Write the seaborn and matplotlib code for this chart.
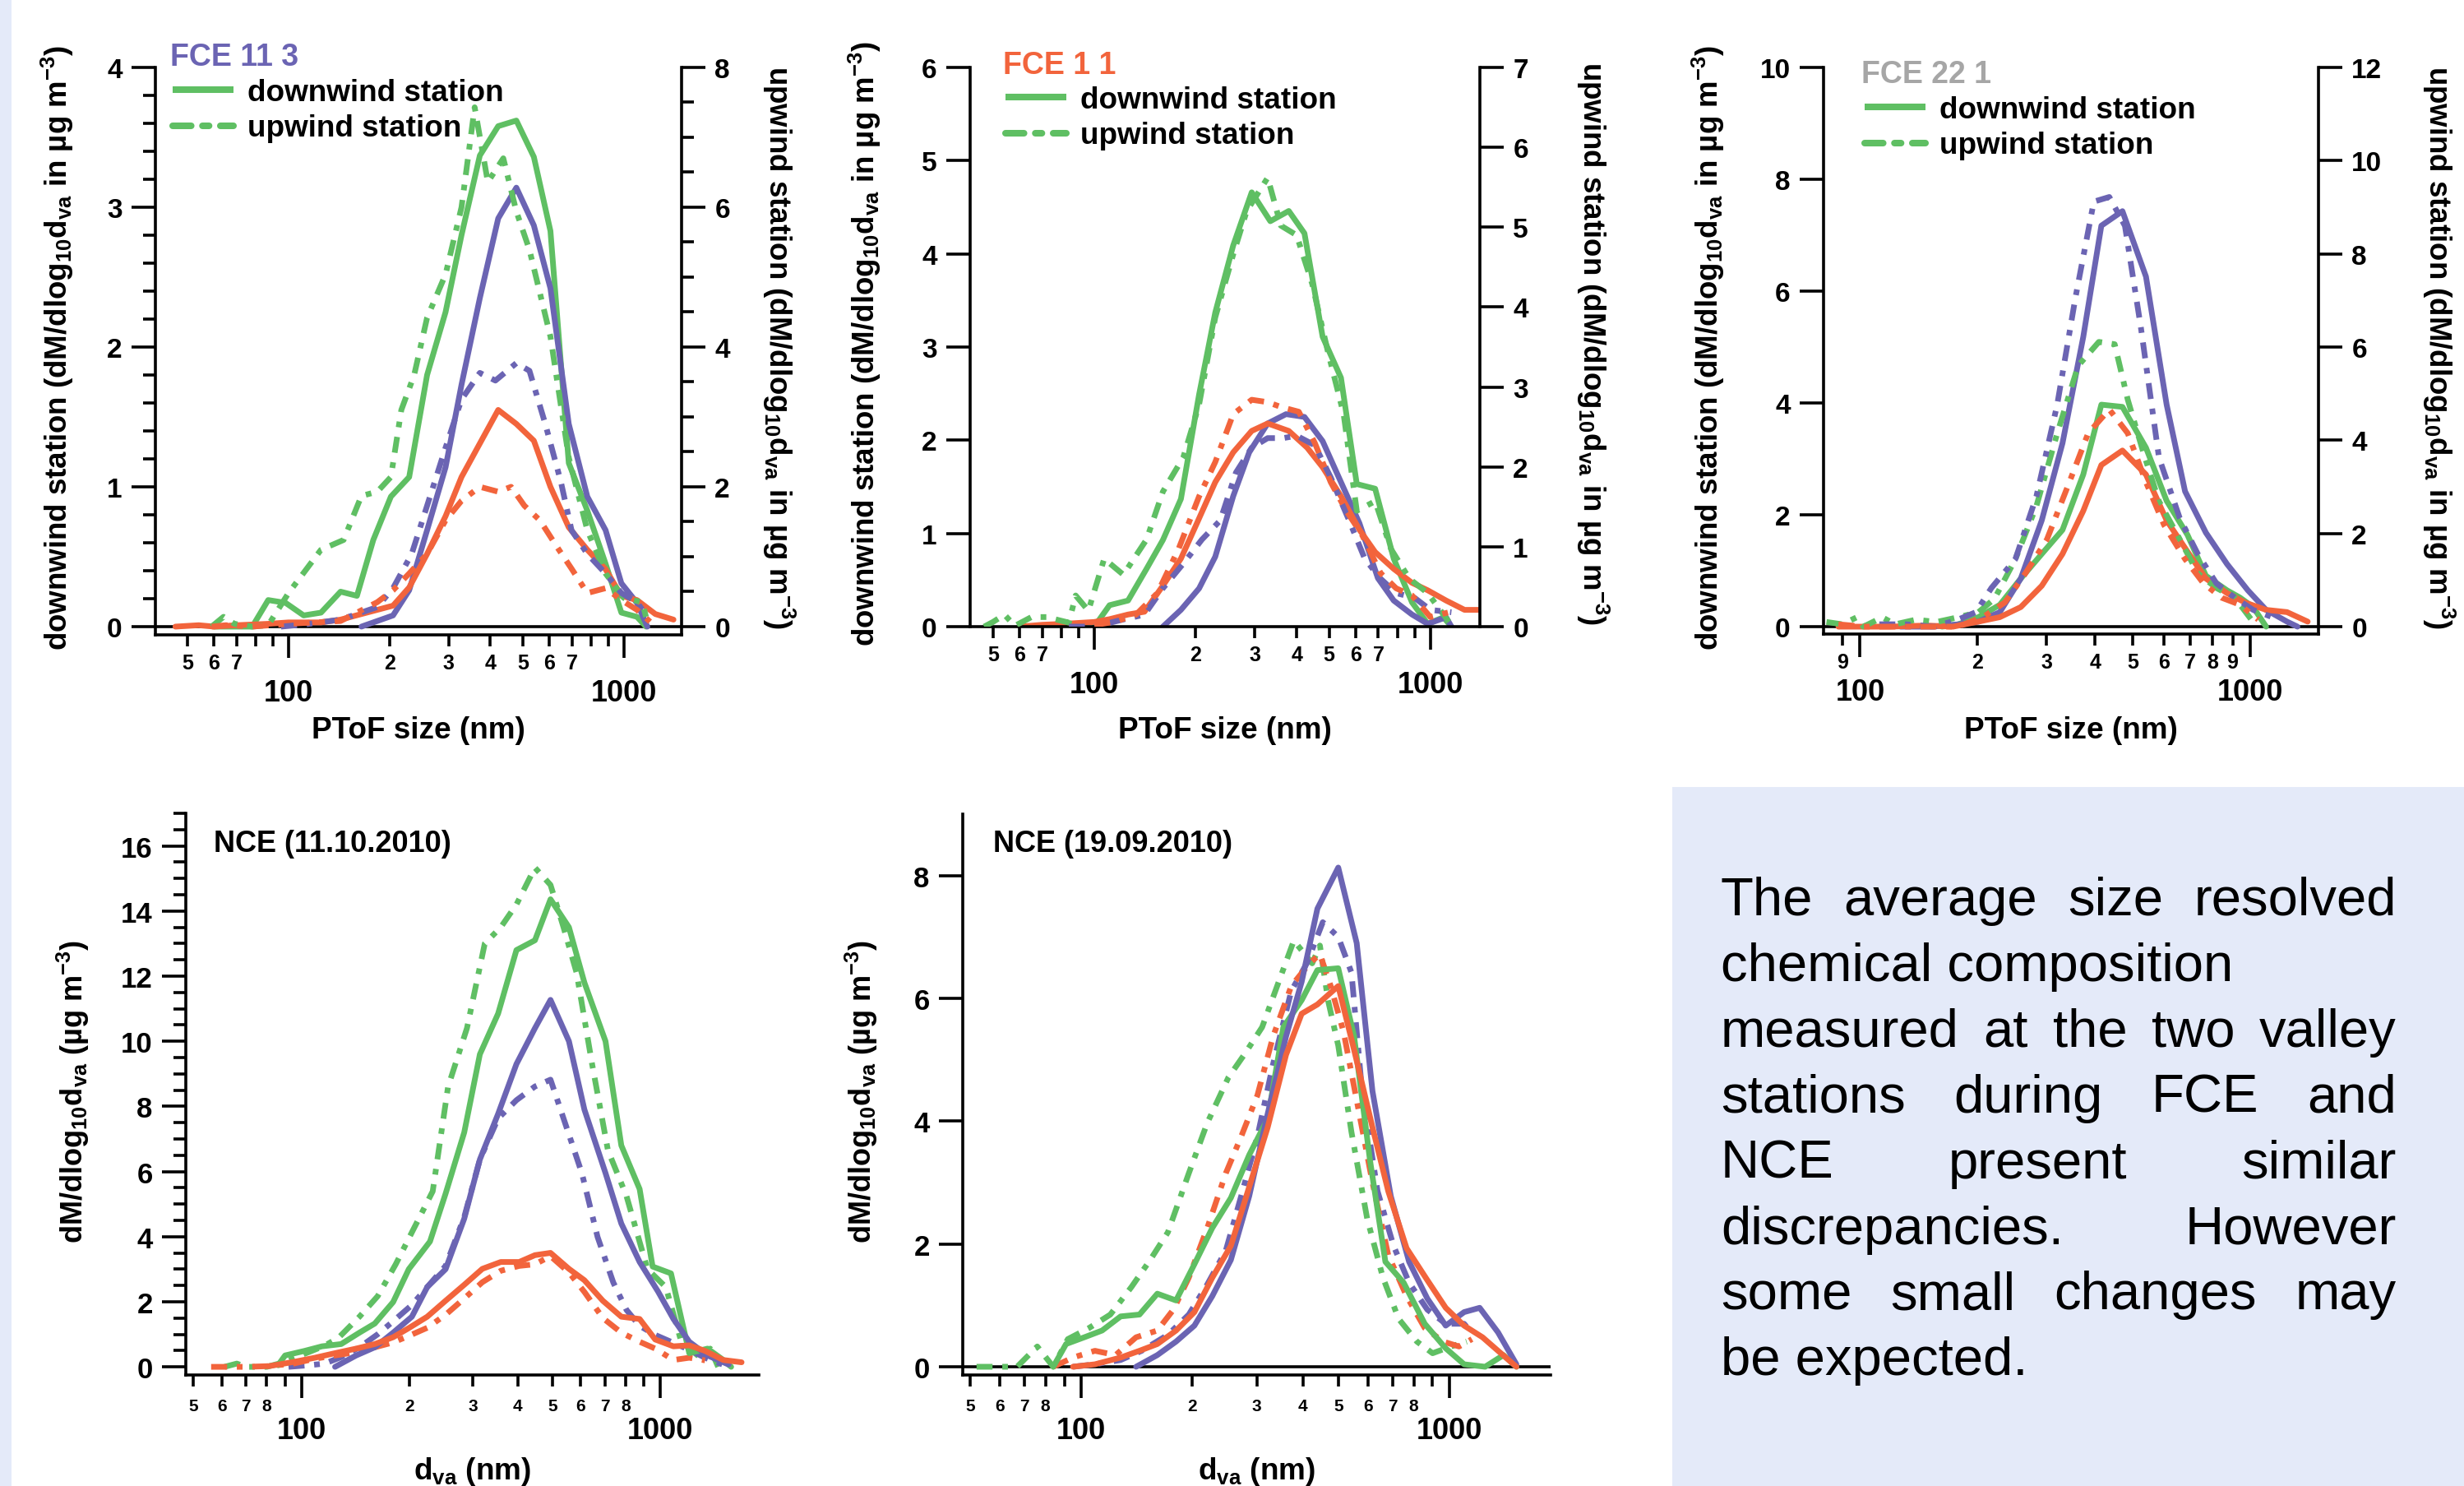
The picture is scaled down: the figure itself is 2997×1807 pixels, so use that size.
import numpy as np
import pandas as pd
import matplotlib
matplotlib.use("Agg")
import matplotlib.pyplot as plt
import seaborn as sns
from matplotlib.lines import Line2D
from matplotlib.patches import Rectangle
from matplotlib.ticker import FixedLocator, FuncFormatter, MultipleLocator, NullLocator

# ---------------- data (size in nm, dM/dlog10 dva) ----------------
# FCE 11 3  (downwind -> left axis, upwind -> right axis)
tl_green_down_x = [60, 78, 87, 98, 111, 125, 143, 160, 179, 202, 229, 259, 294, 328, 372, 422, 478, 539, 604, 685, 778, 882, 983, 1094, 1164]
tl_green_down_y = [0, 0, 0.19, 0.17, 0.08, 0.10, 0.25, 0.22, 0.62, 0.93, 1.07, 1.80, 2.25, 2.80, 3.37, 3.58, 3.62, 3.36, 2.83, 1.17, 0.83, 0.45, 0.10, 0.07, 0]
tl_green_up_x = [59, 64, 69, 78, 87, 100, 125, 146, 165, 184, 202, 217, 237, 259, 294, 328, 359, 393, 437, 478, 523, 604, 685, 778, 882, 1000, 1134, 1164]
tl_green_up_y = [0, 0.14, 0.04, 0, 0.02, 0.48, 1.10, 1.24, 1.87, 1.93, 2.14, 3.10, 3.60, 4.42, 5.04, 6.00, 7.43, 6.36, 6.70, 5.94, 5.39, 4.15, 2.42, 1.38, 0.76, 0.41, 0.35, 0.14]
tl_purple_down_x = [165, 205, 229, 259, 294, 328, 372, 422, 478, 539, 604, 685, 778, 882, 983, 1094, 1175]
tl_purple_down_y = [0, 0.08, 0.26, 0.69, 1.14, 1.73, 2.35, 2.92, 3.14, 2.87, 2.42, 1.45, 0.93, 0.69, 0.31, 0.17, 0]
tl_purple_up_x = [95, 111, 143, 184, 205, 233, 259, 294, 328, 372, 414, 478, 523, 583, 649, 698, 778, 882, 983, 1094, 1175]
tl_purple_up_y = [0, 0.03, 0.10, 0.28, 0.55, 1.04, 1.73, 2.56, 3.25, 3.63, 3.52, 3.77, 3.66, 2.90, 2.07, 1.38, 1.04, 0.76, 0.48, 0.35, 0.14]
tl_orange_down_x = [46, 54, 60, 70, 87, 100, 125, 143, 165, 184, 205, 229, 259, 294, 328, 372, 422, 478, 539, 604, 685, 778, 882, 983, 1094, 1241, 1406]
tl_orange_down_y = [0, 0.01, 0, 0.01, 0.02, 0.03, 0.03, 0.05, 0.09, 0.12, 0.15, 0.28, 0.52, 0.79, 1.07, 1.31, 1.55, 1.45, 1.33, 1.00, 0.71, 0.55, 0.41, 0.22, 0.19, 0.09, 0.05]
tl_orange_up_x = [59, 65, 78, 100, 143, 184, 205, 229, 259, 294, 328, 372, 422, 461, 505, 562, 626, 698, 778, 882, 983, 1094, 1197]
tl_orange_up_y = [0, 0.02, 0, 0.04, 0.08, 0.35, 0.52, 0.76, 1.04, 1.52, 1.80, 2.00, 1.93, 2.00, 1.73, 1.52, 1.17, 0.83, 0.48, 0.55, 0.38, 0.24, 0.07]

# FCE 1 1
tm_green_down_x = [100, 111, 126, 143, 160, 181, 205, 229, 259, 294, 334, 379, 422, 478, 542, 604, 685, 778, 882, 982, 1094, 1155]
tm_green_down_y = [0, 0.23, 0.28, 0.62, 0.93, 1.37, 2.49, 3.37, 4.09, 4.66, 4.35, 4.46, 4.22, 3.11, 2.67, 1.53, 1.48, 0.73, 0.26, 0.03, 0.10, 0]
tm_green_up_x = [47, 50, 54, 58, 65, 72, 84, 88, 96, 107, 122, 143, 160, 184, 205, 229, 259, 284, 328, 359, 400, 445, 495, 552, 604, 685, 764, 866, 982, 1135]
tm_green_up_y = [0, 0.06, 0.15, 0.01, 0.12, 0.12, 0.05, 0.39, 0.20, 0.85, 0.65, 1.09, 1.69, 2.12, 2.78, 3.87, 4.66, 5.20, 5.62, 5.02, 4.90, 4.29, 3.45, 2.66, 1.45, 1.57, 0.97, 0.60, 0.42, 0.06]
tm_purple_down_x = [160, 181, 205, 229, 259, 289, 328, 372, 422, 478, 542, 615, 698, 778, 882, 982, 1114, 1155]
tm_purple_down_y = [0, 0.18, 0.41, 0.75, 1.40, 1.87, 2.18, 2.28, 2.25, 1.99, 1.55, 1.11, 0.52, 0.28, 0.13, 0.03, 0.10, 0]
tm_purple_up_x = [84, 100, 122, 141, 160, 184, 209, 237, 264, 294, 328, 365, 400, 453, 505, 573, 638, 711, 791, 898, 1000, 1155]
tm_purple_up_y = [0, 0, 0.09, 0.15, 0.48, 0.79, 1.09, 1.33, 1.93, 2.24, 2.36, 2.36, 2.39, 2.27, 1.87, 1.33, 0.85, 0.60, 0.42, 0.36, 0.21, 0.18]
tm_orange_down_x = [60, 70, 81, 100, 111, 126, 141, 160, 181, 202, 229, 259, 294, 328, 379, 430, 478, 542, 615, 685, 778, 882, 982, 1114, 1264, 1406]
tm_orange_down_y = [0, 0.02, 0.03, 0.05, 0.08, 0.13, 0.16, 0.44, 0.73, 1.11, 1.55, 1.87, 2.10, 2.18, 2.10, 1.92, 1.71, 1.40, 1.04, 0.80, 0.62, 0.47, 0.39, 0.28, 0.18, 0.18]
tm_orange_up_x = [100, 115, 133, 154, 178, 205, 229, 259, 294, 328, 359, 406, 453, 505, 562, 626, 711, 791, 882, 1000, 1135]
tm_orange_up_y = [0.02, 0.06, 0.15, 0.42, 0.97, 1.63, 2.06, 2.66, 2.84, 2.81, 2.75, 2.69, 2.30, 1.81, 1.45, 1.15, 0.67, 0.48, 0.39, 0.12, 0.18]

# FCE 22 1
tr_green_down_x = [162, 178, 201, 228, 258, 292, 330, 373, 415, 470, 540, 610, 690, 769, 871, 940, 1016, 1097]
tr_green_down_y = [0, 0.04, 0.17, 0.39, 0.86, 1.30, 1.73, 2.72, 3.97, 3.93, 3.20, 2.25, 1.64, 0.91, 0.65, 0.52, 0.35, 0]
tr_green_up_x = [82, 90, 98, 102, 114, 123, 139, 157, 178, 201, 221, 250, 283, 320, 362, 409, 449, 485, 532, 583, 650, 734, 818, 912, 1016]
tr_green_up_y = [0.10, 0.05, 0.20, 0, 0.20, 0.05, 0.15, 0.10, 0.20, 0.31, 0.60, 1.45, 2.59, 4.15, 5.60, 6.11, 6.06, 4.87, 3.73, 2.69, 1.97, 1.14, 0.83, 0.62, 0.10]
tr_purple_down_x = [127, 152, 178, 201, 228, 258, 292, 330, 373, 415, 470, 540, 610, 680, 769, 871, 985, 1097, 1241, 1320]
tr_purple_down_y = [0, 0, 0.04, 0.09, 0.26, 0.86, 1.90, 3.28, 5.18, 7.17, 7.43, 6.26, 3.97, 2.42, 1.68, 1.12, 0.65, 0.30, 0.09, 0]
tr_purple_up_x = [112, 131, 155, 178, 198, 217, 250, 283, 320, 356, 397, 435, 477, 524, 583, 659, 734, 818, 912, 1016, 1132]
tr_purple_up_y = [0.05, 0.05, 0, 0.15, 0.31, 0.83, 1.45, 2.80, 4.77, 7.05, 9.12, 9.22, 8.60, 6.42, 3.63, 2.33, 1.55, 0.93, 0.62, 0.36, 0.21]
tr_orange_down_x = [88, 102, 119, 148, 173, 201, 228, 258, 292, 330, 373, 415, 470, 540, 610, 690, 769, 871, 970, 1097, 1241, 1402]
tr_orange_down_y = [0, 0, 0, 0.02, 0, 0.09, 0.17, 0.35, 0.73, 1.30, 2.07, 2.89, 3.15, 2.72, 1.90, 1.34, 0.86, 0.60, 0.43, 0.30, 0.26, 0.09]
tr_orange_up_x = [88, 102, 119, 178, 207, 235, 265, 301, 340, 384, 435, 485, 540, 601, 680, 758, 844, 940, 1047]
tr_orange_up_y = [0.05, 0, 0, 0, 0.21, 0.52, 1.14, 1.87, 3.00, 4.15, 4.66, 4.15, 3.10, 2.18, 1.45, 0.93, 0.62, 0.47, 0.15]

# NCE (11.10.2010)
bl_green_down_x = [86, 90, 102, 114, 129, 145, 160, 180, 199, 228, 252, 284, 314, 353, 397, 447, 494, 556, 614, 703, 778, 875, 951, 1070, 1203, 1353, 1497, 1574]
bl_green_down_y = [0.05, 0.35, 0.49, 0.63, 0.70, 1.05, 1.33, 1.99, 3.00, 3.85, 5.32, 7.20, 9.60, 10.85, 12.80, 13.10, 14.36, 13.50, 11.80, 10.00, 6.80, 5.46, 3.08, 2.87, 0.42, 0.56, 0.21, 0]
bl_green_up_x = [61, 66, 70, 80, 90, 102, 116, 127, 145, 163, 183, 206, 232, 256, 289, 324, 359, 397, 447, 494, 537, 584, 645, 714, 804, 920, 1035, 1143, 1286, 1376, 1448]
bl_green_up_y = [0, 0.10, 0, 0, 0.15, 0.40, 0.65, 0.90, 1.54, 2.17, 3.15, 4.27, 5.39, 8.60, 10.40, 13.00, 13.50, 14.20, 15.33, 14.80, 13.50, 12.10, 9.30, 6.65, 5.25, 3.00, 2.45, 0.77, 0.30, 0.56, 0]
bl_purple_down_x = [124, 142, 160, 180, 203, 224, 252, 284, 314, 353, 397, 447, 494, 556, 614, 703, 778, 875, 985, 1087, 1203, 1353, 1549]
bl_purple_down_y = [0, 0.35, 0.60, 1.05, 1.54, 2.45, 3.00, 4.55, 6.37, 7.77, 9.30, 10.40, 11.27, 10.00, 7.90, 5.95, 4.40, 3.22, 2.31, 1.47, 0.77, 0.35, 0.07]
bl_purple_up_x = [92, 105, 116, 129, 145, 163, 180, 203, 224, 252, 284, 314, 353, 397, 447, 494, 537, 604, 668, 739, 804, 875, 967, 1070, 1183, 1331, 1549]
bl_purple_up_y = [0, 0.05, 0.10, 0.30, 0.60, 1.00, 1.40, 1.90, 2.45, 3.10, 4.60, 6.37, 7.63, 8.19, 8.61, 8.82, 7.63, 5.95, 3.99, 2.59, 1.75, 1.26, 0.98, 0.77, 0.56, 0.28, 0]
bl_orange_down_x = [81, 95, 109, 124, 142, 160, 180, 199, 224, 252, 284, 319, 359, 404, 447, 494, 556, 614, 691, 778, 875, 967, 1087, 1203, 1331, 1497, 1683]
bl_orange_down_y = [0.02, 0.15, 0.28, 0.42, 0.56, 0.70, 0.91, 1.19, 1.54, 2.03, 2.52, 3.01, 3.22, 3.22, 3.43, 3.50, 3.01, 2.66, 2.03, 1.54, 1.47, 0.84, 0.63, 0.66, 0.49, 0.21, 0.14]
bl_orange_up_x = [56, 64, 70, 80, 95, 109, 124, 142, 160, 180, 199, 224, 252, 284, 319, 359, 404, 447, 494, 556, 614, 691, 778, 875, 967, 1087, 1203, 1331]
bl_orange_up_y = [0, 0, 0, 0.02, 0.10, 0.25, 0.35, 0.45, 0.60, 0.75, 0.95, 1.20, 1.60, 2.10, 2.60, 2.95, 3.10, 3.15, 3.40, 2.90, 2.30, 1.50, 1.05, 0.77, 0.56, 0.21, 0.28, 0.20]

# NCE (19.09.2010)
bm_green_down_x = [84, 91, 102, 114, 128, 144, 161, 181, 203, 227, 255, 286, 321, 354, 397, 438, 499, 551, 608, 670, 751, 857, 977, 1096, 1250, 1402, 1520]
bm_green_down_y = [0, 0.37, 0.48, 0.59, 0.82, 0.85, 1.19, 1.08, 1.67, 2.26, 2.75, 3.45, 4.04, 5.53, 5.97, 6.46, 6.49, 5.38, 3.38, 1.71, 1.37, 0.70, 0.30, 0.04, 0, 0.19, 0]
bm_green_up_x = [52, 67, 76, 84, 92, 105, 120, 137, 154, 172, 196, 220, 251, 277, 310, 342, 378, 424, 445, 468, 499, 542, 598, 660, 728, 816, 900, 1009, 1114]
bm_green_up_y = [0, 0, 0.33, 0, 0.45, 0.63, 0.85, 1.30, 1.74, 2.19, 3.15, 3.97, 4.71, 5.08, 5.53, 6.23, 6.94, 6.57, 6.86, 5.97, 5.23, 3.82, 2.41, 1.45, 0.78, 0.41, 0.22, 0.33, 0.41]
bm_purple_down_x = [141, 161, 181, 203, 227, 255, 286, 321, 360, 397, 438, 499, 560, 618, 693, 777, 871, 977, 1096, 1208, 1355, 1520]
bm_purple_down_y = [0, 0.19, 0.41, 0.67, 1.15, 1.74, 2.78, 4.12, 5.38, 6.27, 7.46, 8.13, 6.90, 4.49, 2.78, 1.71, 1.11, 0.67, 0.89, 0.96, 0.56, 0.04]
bm_purple_up_x = [95, 109, 128, 146, 172, 196, 220, 247, 272, 301, 332, 372, 410, 453, 499, 542, 579, 638, 705, 777, 871, 977, 1096, 1151]
bm_purple_up_y = [0, 0.04, 0.11, 0.26, 0.52, 0.85, 1.34, 1.89, 2.78, 3.75, 4.93, 6.12, 6.57, 7.24, 7.00, 6.42, 4.49, 2.86, 1.97, 1.37, 0.93, 0.70, 0.70, 0.55]
bm_orange_down_x = [95, 109, 128, 144, 161, 181, 203, 227, 255, 286, 321, 360, 397, 438, 499, 551, 618, 682, 765, 871, 977, 1096, 1230, 1355, 1520]
bm_orange_down_y = [0, 0.04, 0.15, 0.26, 0.37, 0.59, 0.89, 1.45, 1.97, 2.93, 3.90, 5.08, 5.75, 5.90, 6.20, 5.16, 3.90, 2.86, 1.93, 1.41, 0.96, 0.67, 0.48, 0.26, 0]
bm_orange_up_x = [84, 95, 109, 124, 141, 161, 178, 196, 220, 247, 272, 301, 332, 372, 417, 445, 476, 516, 560, 618, 682, 765, 857, 962, 1062, 1151]
bm_orange_up_y = [0, 0.15, 0.26, 0.19, 0.48, 0.59, 0.93, 1.45, 2.26, 3.15, 3.75, 4.42, 5.38, 6.20, 6.57, 6.72, 6.20, 5.45, 4.34, 3.00, 1.82, 1.15, 0.63, 0.41, 0.33, 0.45]

species_order = ["green", "purple", "orange"]
palette = {"green": "#5fbf63", "purple": "#6b64b3", "orange": "#f2643c"}

text_lines = ["The average size resolved", "chemical composition", "measured at the two valley",
              "stations during FCE and", "NCE present similar", "discrepancies. However",
              "some small changes may", "be expected."]
text_justify = [True, False, True, True, True, True, True, False]

ylab_down = "downwind station (dM/dlog$_{10}$d$_{va}$ in µg m$^{-3}$)"
ylab_up = "upwind station (dM/dlog$_{10}$d$_{va}$ in µg m$^{-3}$)"
ylab_nce = "dM/dlog$_{10}$d$_{va}$ (µg m$^{-3}$)"

# ---------------- style ----------------
sns.set_theme(style="ticks", rc={"axes.edgecolor": "black", "xtick.color": "black", "ytick.color": "black",
                                 "text.color": "black", "axes.labelcolor": "black"})
plt.rcParams["font.family"] = ["Liberation Sans", "DejaVu Sans"]
plt.rcParams["font.weight"] = "bold"
plt.rcParams["mathtext.default"] = "regular"
plt.rcParams["axes.linewidth"] = 1.3

W, H, DPI = 2997, 1808, 200
LW = 2.5
DASHDOT = (0, (2.8, 1.7, 1.0, 1.7))
fig = plt.figure(figsize=(W / DPI, H / DPI), dpi=DPI)
fig.patch.set_facecolor("white")


def fx(x):
    return x / W


def fy(y):
    return 1 - y / H


def box(left, top, right, bottom):
    return fig.add_axes([fx(left), fy(bottom), (right - left) / W, (bottom - top) / H])


def frame(series):
    return pd.concat([pd.DataFrame({"size": xs, "value": ys, "species": sp}) for sp, xs, ys in series],
                     ignore_index=True)


def curves(ax, df, ls):
    sns.lineplot(data=df, x="size", y="value", hue="species", hue_order=species_order, palette=palette,
                 estimator=None, sort=False, legend=False, ax=ax, linewidth=LW, linestyle=ls,
                 dash_capstyle="butt", solid_joinstyle="round")
    ax.set_xlabel("")
    ax.set_ylabel("")


def x_ticks(ax, xlim, minor, labeled, fs_major, fs_minor, pad_major, pad_minor):
    ax.set_xscale("log")
    ax.set_xlim(*xlim)
    ax.xaxis.set_major_locator(FixedLocator([100, 1000]))
    ax.xaxis.set_major_formatter(FuncFormatter(lambda v, p: f"{v:.0f}"))
    ax.xaxis.set_minor_locator(FixedLocator(minor))
    ax.xaxis.set_minor_formatter(FuncFormatter(
        lambda v, p: f"{v / 10 ** np.floor(np.log10(v)):.0f}" if round(v) in labeled else ""))
    ax.tick_params(axis="x", which="major", length=10, width=1.3, pad=pad_major, labelsize=fs_major)
    ax.tick_params(axis="x", which="minor", length=5, width=1.3, pad=pad_minor, labelsize=fs_minor)


def y_ticks(ax, ylim, major, minor, fs=12):
    ax.set_ylim(*ylim)
    ax.yaxis.set_major_locator(MultipleLocator(major))
    ax.yaxis.set_minor_locator(MultipleLocator(minor) if minor else NullLocator())
    ax.yaxis.set_major_formatter(FuncFormatter(lambda v, p: f"{v:.0f}"))
    ax.tick_params(axis="y", which="major", length=10.5, width=1.3, pad=4, labelsize=fs)
    ax.tick_params(axis="y", which="minor", length=5.5, width=1.3)


def legend(ax, lx, ly):
    handles = [Line2D([], [], color=palette["green"], lw=2.9, solid_capstyle="butt"),
               Line2D([], [], color=palette["green"], lw=2.9, linestyle=DASHDOT, dash_capstyle="round")]
    ax.legend(handles, ["downwind station", "upwind station"], loc="upper left",
              bbox_to_anchor=(fx(lx), fy(ly)), bbox_transform=fig.transFigure, frameon=False,
              fontsize=13.3, handlelength=2.0, handletextpad=0.45, labelspacing=0.23,
              borderpad=0, borderaxespad=0)


minor_std = [50, 60, 70, 80, 90, 200, 300, 400, 500, 600, 700, 800, 900]

# background panels
fig.add_artist(Rectangle((0, 0), fx(14), 1, transform=fig.transFigure, facecolor="#e4eaf9",
                         edgecolor="none", zorder=-1))
fig.add_artist(Rectangle((fx(2034), 0), 1 - fx(2034), fy(958), transform=fig.transFigure,
                         facecolor="#e4eaf9", edgecolor="none", zorder=-1))

# ---------------- top panels ----------------
top_panels = [
    dict(rect=(189, 83, 829, 773), xlim=(40.1, 1486), yl=(-0.059, 4), yr=(-0.118, 8),
         sl=(1, 0.2), sr=(2, 0.5), minor=minor_std,
         labeled={50, 60, 70, 200, 300, 400, 500, 600, 700}, zero=True,
         down=[("green", tl_green_down_x, tl_green_down_y), ("purple", tl_purple_down_x, tl_purple_down_y),
               ("orange", tl_orange_down_x, tl_orange_down_y)],
         up=[("green", tl_green_up_x, tl_green_up_y), ("purple", tl_purple_up_x, tl_purple_up_y),
             ("orange", tl_orange_up_x, tl_orange_up_y)],
         title="FCE 11 3", tcolor=palette["purple"], tpos=(207, 70), lpos=(210, 96),
         lab=(70, 947)),
    dict(rect=(1180, 83, 1800, 763), xlim=(42.7, 1404), yl=(0, 6), yr=(0, 7),
         sl=(1, None), sr=(1, None), minor=minor_std,
         labeled={50, 60, 70, 200, 300, 400, 500, 600, 700}, zero=False,
         down=[("green", tm_green_down_x, tm_green_down_y), ("purple", tm_purple_down_x, tm_purple_down_y),
               ("orange", tm_orange_down_x, tm_orange_down_y)],
         up=[("green", tm_green_up_x, tm_green_up_y), ("purple", tm_purple_up_x, tm_purple_up_y),
             ("orange", tm_orange_up_x, tm_orange_up_y)],
         title="FCE 1 1", tcolor=palette["orange"], tpos=(1220, 80), lpos=(1223, 105),
         lab=(1052, 1937)),
    dict(rect=(2218, 83, 2820, 772), xlim=(80.6, 1494), yl=(-0.132, 10), yr=(-0.159, 12),
         sl=(2, None), sr=(2, None), minor=[90, 200, 300, 400, 500, 600, 700, 800, 900],
         labeled={90, 200, 300, 400, 500, 600, 700, 800, 900}, zero=True,
         down=[("green", tr_green_down_x, tr_green_down_y), ("purple", tr_purple_down_x, tr_purple_down_y),
               ("orange", tr_orange_down_x, tr_orange_down_y)],
         up=[("green", tr_green_up_x, tr_green_up_y), ("purple", tr_purple_up_x, tr_purple_up_y),
             ("orange", tr_orange_up_x, tr_orange_up_y)],
         title="FCE 22 1", tcolor="#a6a6a6", tpos=(2264, 91), lpos=(2268, 117),
         lab=(2078, 2966)),
]

for p in top_panels:
    ax = box(*p["rect"])
    ax.set_xscale("log")
    ax2 = ax.twinx()
    curves(ax, frame(p["down"]), "-")
    curves(ax2, frame(p["up"]), DASHDOT)
    x_ticks(ax, p["xlim"], p["minor"], p["labeled"], 13, 9, 9, 3)
    y_ticks(ax, p["yl"], *p["sl"])
    y_ticks(ax2, p["yr"], *p["sr"])
    if p["zero"]:
        ax.axhline(0, color="black", lw=1.3, zorder=1)
    for s in ("top", "right"):
        ax.spines[s].set_visible(False)
    for s in ("top", "left", "bottom"):
        ax2.spines[s].set_visible(False)
    legend(ax2, *p["lpos"])
    fig.text(fx(p["tpos"][0]), fy(p["tpos"][1]), p["title"], color=p["tcolor"], fontsize=13.5,
             ha="left", va="center")
    cy = (p["rect"][1] + p["rect"][3]) / 2 - 5
    fig.text(fx(p["lab"][0]), fy(cy), ylab_down, rotation=90, fontsize=13.2, ha="center", va="center")
    fig.text(fx(p["lab"][1]), fy(cy), ylab_up, rotation=270, fontsize=13.2, ha="center", va="center")
    fig.text(fx((p["rect"][0] + p["rect"][2]) / 2), fy(889), "PToF size (nm)", fontsize=13.3,
             ha="center", va="center")

# ---------------- bottom panels ----------------
bottom_panels = [
    dict(rect=(226, 990, 923, 1673), xlim=(47.6, 1880), yl=(-0.25, 17), steps=(2, 0.5), zero=False,
         series=[("green", bl_green_down_x, bl_green_down_y), ("purple", bl_purple_down_x, bl_purple_down_y),
                 ("orange", bl_orange_down_x, bl_orange_down_y)],
         series_up=[("green", bl_green_up_x, bl_green_up_y), ("purple", bl_purple_up_x, bl_purple_up_y),
                    ("orange", bl_orange_up_x, bl_orange_up_y)],
         title="NCE (11.10.2010)", tpos=(260, 1026), lab=(89, 1328)),
    dict(rect=(1171, 991, 1886, 1673), xlim=(47.7, 1882), yl=(-0.134, 9), steps=(2, None), zero=True,
         series=[("green", bm_green_down_x, bm_green_down_y), ("purple", bm_purple_down_x, bm_purple_down_y),
                 ("orange", bm_orange_down_x, bm_orange_down_y)],
         series_up=[("green", bm_green_up_x, bm_green_up_y), ("purple", bm_purple_up_x, bm_purple_up_y),
                    ("orange", bm_orange_up_x, bm_orange_up_y)],
         title="NCE (19.09.2010)", tpos=(1208, 1026), lab=(1048, 1328)),
]

for p in bottom_panels:
    ax = box(*p["rect"])
    ax.set_xscale("log")
    curves(ax, frame(p["series_up"]), DASHDOT)
    curves(ax, frame(p["series"]), "-")
    x_ticks(ax, p["xlim"], minor_std, {50, 60, 70, 80, 200, 300, 400, 500, 600, 700, 800}, 13, 7.5, 8, 5)
    y_ticks(ax, p["yl"], *p["steps"], fs=12.5)
    if p["zero"]:
        ax.axhline(0, color="black", lw=1.3, zorder=1)
    for s in ("top", "right"):
        ax.spines[s].set_visible(False)
    fig.text(fx(p["tpos"][0]), fy(p["tpos"][1]), p["title"], fontsize=13, ha="left", va="center")
    fig.text(fx(p["lab"][0]), fy(p["lab"][1]), ylab_nce, rotation=90, fontsize=13, ha="center", va="center")
    fig.text(fx((p["rect"][0] + p["rect"][2]) / 2), fy(1790), "d$_{va}$ (nm)", fontsize=13.3,
             ha="center", va="center")

# ---------------- justified text block ----------------
TFS = 23.5
renderer = fig.canvas.get_renderer()
x0, x1 = 2093, 2915
for i, (line, just) in enumerate(zip(text_lines, text_justify)):
    y = 1113 + 79.9 * i
    if not just:
        fig.text(fx(x0), fy(y), line, fontsize=TFS, fontweight="normal", ha="left", va="baseline")
        continue
    words = line.split()
    arts = [fig.text(0, fy(y), w, fontsize=TFS, fontweight="normal", ha="left", va="baseline") for w in words]
    widths = [a.get_window_extent(renderer).width for a in arts]
    gap = (x1 - x0 - sum(widths)) / (len(words) - 1)
    x = x0
    for a, w in zip(arts, widths):
        a.set_x(fx(x))
        x += w + gap

fig.savefig("out.png", dpi=DPI)
